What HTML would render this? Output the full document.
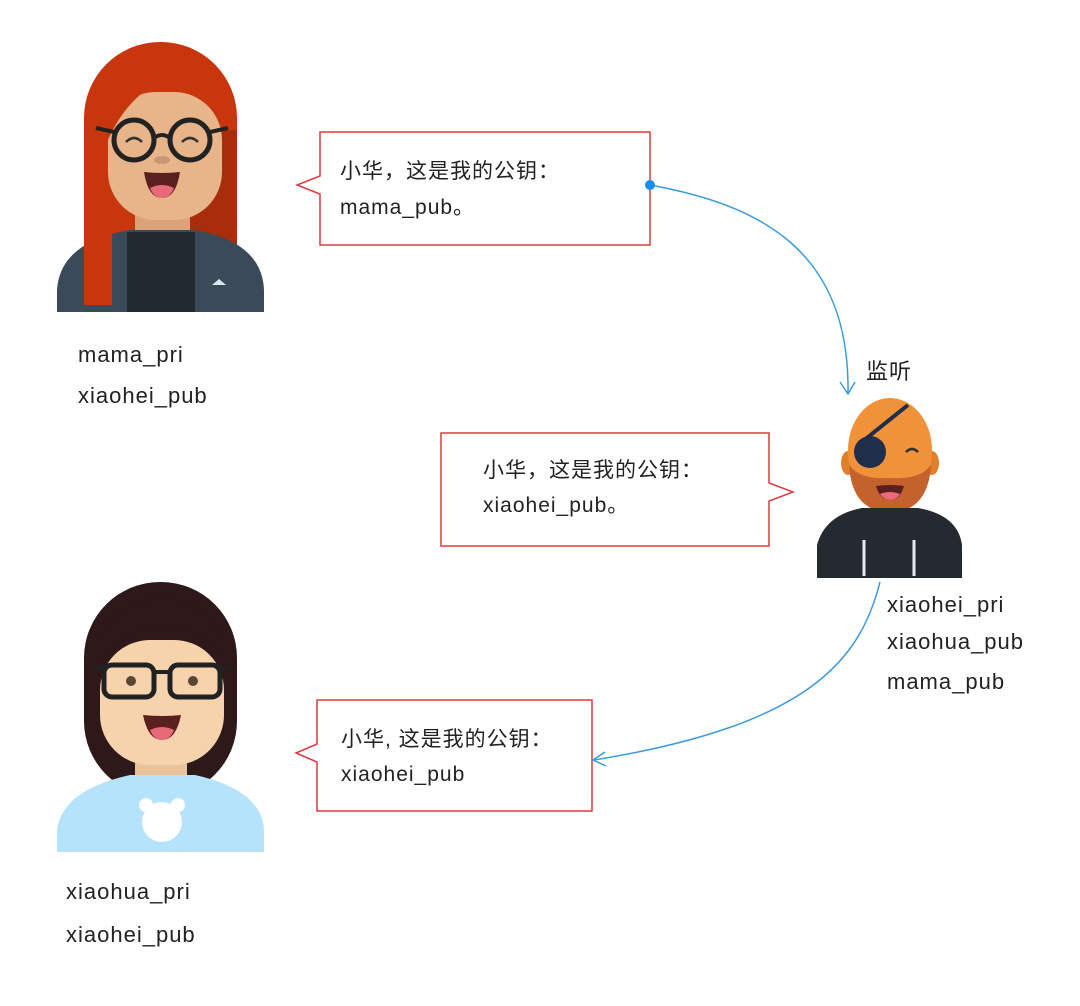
<!DOCTYPE html>
<html><head><meta charset="utf-8"><style>
html,body{margin:0;padding:0;background:#fff;}
svg{display:block;}
text{font-family:"Liberation Sans","Noto Sans CJK SC",sans-serif;fill:#222;}
</style></head><body>
<svg width="1080" height="1006" viewBox="0 0 1080 1006" xmlns="http://www.w3.org/2000/svg">
<!-- mama avatar -->
<rect x="84" y="42" width="153" height="262" rx="76" fill="#c8360d"/>
<rect x="190" y="130" width="47" height="150" fill="#a82e0b"/>
<rect x="135" y="200" width="55" height="45" fill="#dba27a"/>
<rect x="108" y="92" width="114" height="128" rx="48" fill="#e8b58b"/>
<path d="M108,140 Q130,90 175,75 L222,95 L222,92 Q200,60 160,60 Q108,70 108,140Z" fill="#c8360d"/>
<path d="M57,312 L57,290 Q60,242 130,230 L195,230 Q262,242 264,290 L264,312Z" fill="#3a4a58"/>
<rect x="127" y="232" width="68" height="80" fill="#222a31"/>
<rect x="84" y="225" width="28" height="80" fill="#c8360d"/>
<path d="M212,285 L226,285 L219,279Z" fill="#dfe7ee"/>
<circle cx="134" cy="140" r="20" fill="none" stroke="#222" stroke-width="5"/>
<circle cx="190" cy="140" r="20" fill="none" stroke="#222" stroke-width="5"/>
<path d="M154,138 Q162,132 170,138 M96,128 L114,132 M210,132 L228,128" stroke="#222" stroke-width="4" fill="none"/>
<path d="M126,142 Q134,134 142,142 M182,142 Q190,134 198,142" stroke="#333" stroke-width="2.5" fill="none"/>
<ellipse cx="162" cy="160" rx="8" ry="4" fill="#c99670"/>
<path d="M144,172 Q162,174 180,172 Q176,198 162,198 Q148,198 144,172Z" fill="#5a2020"/>
<path d="M150,188 Q162,182 174,188 Q170,198 162,198 Q154,198 150,188Z" fill="#e86a7a"/>
<!-- hacker -->
<ellipse cx="848" cy="463" rx="7" ry="12" fill="#e07f2c"/>
<ellipse cx="932" cy="463" rx="7" ry="12" fill="#e07f2c"/>
<rect x="870" y="488" width="40" height="25" fill="#f0923a"/>
<ellipse cx="890" cy="450" rx="42" ry="52" fill="#f0923a"/>
<path d="M849,465 Q852,512 890,512 Q928,512 931,465 Q920,480 890,478 Q860,480 849,465Z" fill="#c4622d"/>
<path d="M876,486 Q890,484 904,486 Q900,500 890,500 Q880,500 876,486Z" fill="#5a2020"/>
<path d="M880,494 Q890,490 900,494 Q896,500 890,500 Q884,500 880,494Z" fill="#e86a7a"/>
<line x1="858" y1="445" x2="908" y2="405" stroke="#1f2e4a" stroke-width="4"/>
<circle cx="870" cy="452" r="16" fill="#1f2e4a"/>
<path d="M906,452 Q912,446 918,452" stroke="#333" stroke-width="2.5" fill="none"/>
<path d="M817,578 L817,545 Q825,515 862,508 L918,508 Q958,515 962,545 L962,578Z" fill="#252a31"/>
<line x1="864" y1="540" x2="864" y2="576" stroke="#e6e9ee" stroke-width="3"/>
<line x1="914" y1="540" x2="914" y2="576" stroke="#e6e9ee" stroke-width="3"/>
<!-- xiaohua -->
<rect x="84" y="582" width="153" height="215" rx="76" fill="#2d1919"/>
<rect x="135" y="740" width="52" height="40" fill="#e8c39c"/>
<rect x="100" y="640" width="124" height="125" rx="50" fill="#f6d3ac"/>
<path d="M100,665 Q120,630 162,625 Q210,630 224,665 L224,640 Q205,600 162,598 Q118,600 100,640Z" fill="#2d1919"/>
<path d="M57,852 L57,830 Q62,790 130,775 L195,775 Q262,790 264,830 L264,852Z" fill="#b5e3fc"/>
<circle cx="162" cy="822" r="20" fill="#fff"/><circle cx="146" cy="805" r="7" fill="#fff"/><circle cx="178" cy="805" r="7" fill="#fff"/>
<rect x="104" y="665" width="50" height="32" rx="8" fill="none" stroke="#222" stroke-width="5"/>
<rect x="170" y="665" width="50" height="32" rx="8" fill="none" stroke="#222" stroke-width="5"/>
<line x1="154" y1="672" x2="170" y2="672" stroke="#222" stroke-width="4"/>
<line x1="94" y1="668" x2="104" y2="668" stroke="#222" stroke-width="4"/><line x1="220" y1="668" x2="230" y2="668" stroke="#222" stroke-width="4"/>
<circle cx="131" cy="681" r="5" fill="#5a4634"/><circle cx="193" cy="681" r="5" fill="#5a4634"/>
<path d="M143,715 Q162,717 181,715 Q176,740 162,740 Q148,740 143,715Z" fill="#5a2020"/>
<path d="M150,730 Q162,724 174,730 Q170,740 162,740 Q154,740 150,730Z" fill="#e86a7a"/>
<!-- boxes -->
<path d="M320,132 L650,132 L650,245 L320,245 L320,194 L297,185 L320,176Z" fill="#fff" stroke="#e0383e" stroke-width="1.5"/>
<path d="M441,433 L769,433 L769,483 L793,492 L769,501 L769,546 L441,546Z" fill="#fff" stroke="#e0383e" stroke-width="1.5"/>
<path d="M317,700 L592,700 L592,811 L317,811 L317,762 L296,753 L317,744Z" fill="#fff" stroke="#e0383e" stroke-width="1.5"/>
<g font-size="21" letter-spacing="1">
<text x="340" y="178">小华，这是我的公钥：</text><text x="340" y="214">mama_pub。</text>
<text x="483" y="477">小华，这是我的公钥：</text><text x="483" y="512">xiaohei_pub。</text>
<text x="341" y="746">小华, 这是我的公钥：</text><text x="341" y="781">xiaohei_pub</text>
</g>
<!-- connectors -->
<path d="M650,185 C760,205 850,250 848,393" fill="none" stroke="#3a9ae0" stroke-width="1.5"/>
<path d="M840,382 L848,394 L855,382" fill="none" stroke="#3a9ae0" stroke-width="1.5"/>
<circle cx="650" cy="185" r="5" fill="#1a8ef0"/>
<path d="M880,582 C860,660 810,725 594,760" fill="none" stroke="#3a9ae0" stroke-width="1.5"/>
<path d="M605,752 L593,760 L606,766" fill="none" stroke="#3a9ae0" stroke-width="1.5"/>
<g font-size="22" letter-spacing="1">
<text x="866" y="379">监听</text>
<text x="78" y="362">mama_pri</text><text x="78" y="403">xiaohei_pub</text>
<text x="887" y="612">xiaohei_pri</text><text x="887" y="649">xiaohua_pub</text><text x="887" y="689">mama_pub</text>
<text x="66" y="899">xiaohua_pri</text><text x="66" y="942">xiaohei_pub</text>
</g>
</svg>
</body></html>
